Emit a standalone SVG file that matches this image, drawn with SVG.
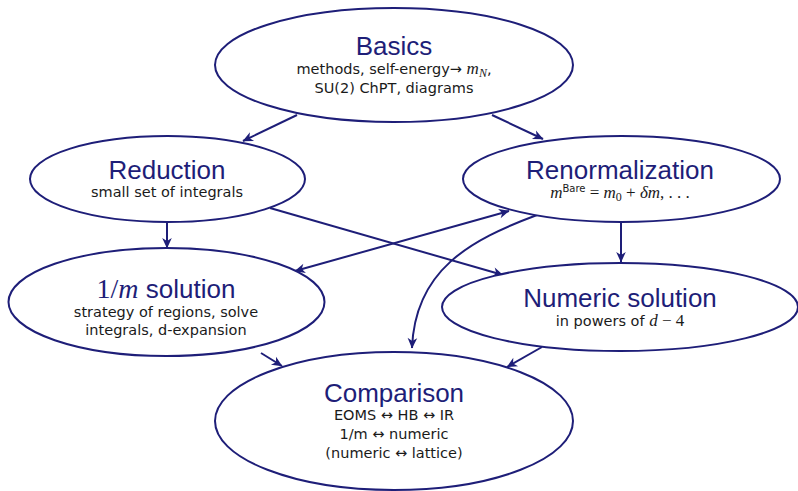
<svg xmlns="http://www.w3.org/2000/svg" width="798" height="491" viewBox="0 0 798 491">
  <style>
    .node ellipse { fill: #ffffff; stroke: #1e1e78; stroke-width: 2; }
    .title { font-family: "Liberation Sans", Arial, sans-serif; font-size: 26px; fill: #1e1e78; text-anchor: middle; }
    .sub { font-family: "DejaVu Sans", sans-serif; font-size: 14.5px; fill: #1a1a1a; text-anchor: middle; }
    .math { font-family: "Liberation Serif", serif; font-style: italic; }
    .mathr { font-family: "Liberation Serif", serif; font-style: normal; }
    .edges path, .edges line { fill: none; stroke: #1e1e78; stroke-width: 2; }
  </style>
  <defs>
    <marker id="arr" viewBox="-11 -6 12 12" refX="0" refY="0" markerWidth="12" markerHeight="12" markerUnits="userSpaceOnUse" orient="auto-start-reverse">
      <path d="M0.5,0 L-10,-4.8 L-7,0 L-10,4.8 Z" fill="#1e1e78"/>
    </marker>
  </defs>
  <rect width="798" height="491" fill="#ffffff"/>

  <g class="edges">
    <line x1="297" y1="115" x2="243" y2="141" marker-end="url(#arr)"/>
    <line x1="492" y1="115" x2="543" y2="139" marker-end="url(#arr)"/>
    <line x1="167" y1="222" x2="167" y2="248" marker-end="url(#arr)"/>
    <line x1="270" y1="208" x2="503" y2="275" marker-end="url(#arr)"/>
    <line x1="295" y1="271" x2="509" y2="211" marker-start="url(#arr)" marker-end="url(#arr)"/>
    <line x1="621" y1="222" x2="621" y2="262" marker-end="url(#arr)"/>
    <path d="M537,215 C470,240 415,270 412,348" marker-end="url(#arr)"/>
    <line x1="261" y1="353" x2="282" y2="366" marker-end="url(#arr)"/>
    <line x1="542" y1="347" x2="507" y2="367" marker-end="url(#arr)"/>
  </g>

  <g id="basics" class="node">
    <ellipse cx="394" cy="65" rx="179" ry="57"/>
    <text class="title" x="394" y="55">Basics</text>
    <text class="sub" x="394" y="74">methods, self-energy→ <tspan class="math" font-size="17">m</tspan><tspan class="math" font-size="12" dy="3">N</tspan><tspan dy="-3">,</tspan></text>
    <text class="sub" x="394" y="93">SU(2) ChPT, diagrams</text>
  </g>

  <g id="reduction" class="node">
    <ellipse cx="167.5" cy="179" rx="137.5" ry="43"/>
    <text class="title" x="167" y="179">Reduction</text>
    <text class="sub" x="167" y="197">small set of integrals</text>
  </g>

  <g id="renormalization" class="node">
    <ellipse cx="621.5" cy="179" rx="158.5" ry="43"/>
    <text class="title" x="620" y="179">Renormalization</text>
    <text class="sub" x="620" y="198"><tspan class="math" font-size="17">m</tspan><tspan font-size="10" dy="-6">Bare</tspan><tspan class="mathr" font-size="17" dy="6"> = </tspan><tspan class="math" font-size="17">m</tspan><tspan class="mathr" font-size="12" dy="3">0</tspan><tspan class="mathr" font-size="17" dy="-3"> + </tspan><tspan class="math" font-size="17">δm</tspan><tspan class="mathr" font-size="17">, . . .</tspan></text>
  </g>

  <g id="onem" class="node">
    <ellipse cx="166.5" cy="302" rx="158" ry="54"/>
    <text class="title" x="166" y="298"><tspan class="mathr" font-size="28">1/</tspan><tspan class="math" font-size="28">m</tspan> solution</text>
    <text class="sub" x="166" y="317">strategy of regions, solve</text>
    <text class="sub" x="166" y="335">integrals, d-expansion</text>
  </g>

  <g id="numeric" class="node">
    <ellipse cx="620" cy="307" rx="178" ry="44"/>
    <text class="title" x="620" y="307">Numeric solution</text>
    <text class="sub" x="620" y="326">in powers of <tspan class="math" font-size="17">d</tspan><tspan class="mathr" font-size="17"> − 4</tspan></text>
  </g>

  <g id="comparison" class="node">
    <ellipse cx="394" cy="421" rx="179" ry="69"/>
    <text class="title" x="394" y="402">Comparison</text>
    <text class="sub" x="394" y="420">EOMS ↔ HB ↔ IR</text>
    <text class="sub" x="394" y="439">1/m ↔ numeric</text>
    <text class="sub" x="394" y="458">(numeric ↔ lattice)</text>
  </g>
</svg>
